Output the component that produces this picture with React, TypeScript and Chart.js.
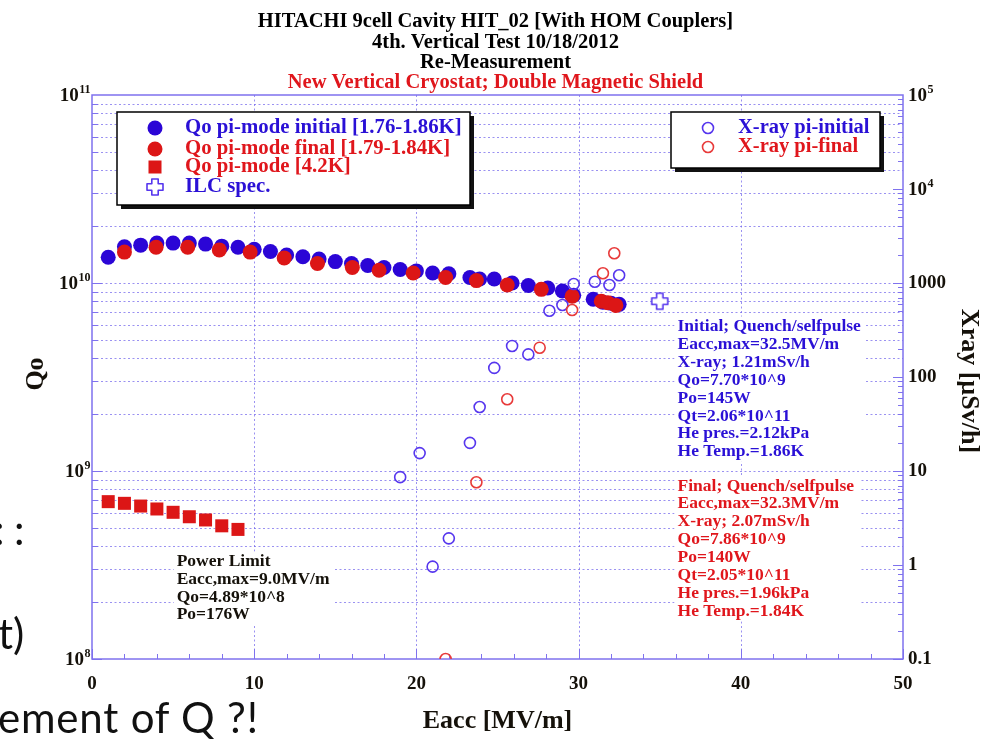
import React, { useEffect, useRef } from "react";
import { Chart, registerables } from "chart.js";

Chart.register(...registerables);

// ---------------- data ----------------
const initialEacc = [1, 2, 3, 4, 5, 6, 7, 8, 9, 10, 11, 12, 13, 14, 15, 16, 17, 18, 19, 20, 21, 22, 23.3, 23.9, 24.8, 25.9, 26.9, 28.1, 29.0, 29.7, 30.9, 31.5, 32.0, 32.5];
const initialQ = [1.37e10, 1.56e10, 1.59e10, 1.63e10, 1.63e10, 1.63e10, 1.61e10, 1.57e10, 1.55e10, 1.51e10, 1.47e10, 1.41e10, 1.38e10, 1.34e10, 1.30e10, 1.27e10, 1.24e10, 1.21e10, 1.18e10, 1.16e10, 1.13e10, 1.12e10, 1.07e10, 1.05e10, 1.05e10, 1.0e10, 9.7e9, 9.4e9, 9.06e9, 8.6e9, 8.2e9, 7.9e9, 7.8e9, 7.7e9];

const finalEacc = [2, 3.95, 5.9, 7.85, 9.75, 11.85, 13.9, 16.05, 17.7, 19.8, 21.8, 23.7, 25.6, 27.7, 29.6, 31.4, 31.8, 32.3];
const finalQ = [1.46e10, 1.55e10, 1.55e10, 1.5e10, 1.46e10, 1.36e10, 1.27e10, 1.21e10, 1.17e10, 1.13e10, 1.07e10, 1.03e10, 9.75e9, 9.25e9, 8.5e9, 8.0e9, 7.85e9, 7.6e9];

const heEacc = [1, 2, 3, 4, 5, 6, 7, 8, 9];
const heQ = [6.87e8, 6.73e8, 6.51e8, 6.28e8, 6.03e8, 5.71e8, 5.49e8, 5.11e8, 4.89e8];

const ilcEacc = [35];
const ilcQ = [8e9];

const xrayInitEacc = [19.0, 20.2, 21.0, 22.0, 23.3, 23.9, 24.8, 25.9, 26.9, 28.2, 29.0, 29.7, 31.0, 31.9, 32.5];
const xrayInitVal = [8.6, 15.5, 0.96, 1.92, 19.9, 48, 125, 214, 174, 507, 583, 976, 1032, 952, 1210];

const xrayFinalEacc = [21.8, 23.7, 25.6, 27.6, 29.6, 31.5, 32.2];
const xrayFinalVal = [0.1, 7.6, 58, 205, 516, 1270, 2070];

const xTicks = [0, 10, 20, 30, 40, 50];
const qTickExps = [8, 9, 10, 11];
const xrayTicks = [0.1, 1, 10, 100, 1000, 1e4, 1e5];

const titleLines = [
  "HITACHI 9cell Cavity HIT_02 [With HOM Couplers]",
  "4th. Vertical Test 10/18/2012",
  "Re-Measurement",
];
const subtitleLine = "New Vertical Cryostat; Double Magnetic Shield";

const legendLeft = [
  "Qo pi-mode initial [1.76-1.86K]",
  "Qo pi-mode final [1.79-1.84K]",
  "Qo pi-mode [4.2K]",
  "ILC spec.",
];
const legendRight = ["X-ray pi-initial", "X-ray pi-final"];

const initialNote = [
  "Initial; Quench/selfpulse",
  "Eacc,max=32.5MV/m",
  "X-ray; 1.21mSv/h",
  "Qo=7.70*10^9",
  "Po=145W",
  "Qt=2.06*10^11",
  "He pres.=2.12kPa",
  "He Temp.=1.86K",
];
const finalNote = [
  "Final; Quench/selfpulse",
  "Eacc,max=32.3MV/m",
  "X-ray; 2.07mSv/h",
  "Qo=7.86*10^9",
  "Po=140W",
  "Qt=2.05*10^11",
  "He pres.=1.96kPa",
  "He Temp.=1.84K",
];
const powerNote = ["Power Limit", "Eacc,max=9.0MV/m", "Qo=4.89*10^8", "Po=176W"];

// ---------------- styles ----------------
const SERIF = '"Liberation Serif", "Times New Roman", Times, serif';
const BLUE = "#2b05d6";
const RED = "#dc1616";
const BLUE_OPEN = "#5636ee";
const RED_OPEN = "#e83a3a";
const BLUE_TEXT = "#2a10d6";
const RED_TEXT = "#e0161c";
const DARK = "#15110a";
const GRID = "rgba(120,108,236,0.75)";
const AXIS = "#7f72ee";

function makeCross(color: string): HTMLCanvasElement {
  const c = document.createElement("canvas");
  const s = 20;
  c.width = s;
  c.height = s;
  const g = c.getContext("2d")!;
  const a = 3.2;
  const L = 8;
  const cx = s / 2;
  const cy = s / 2;
  g.beginPath();
  g.moveTo(cx - a, cy - L);
  g.lineTo(cx + a, cy - L);
  g.lineTo(cx + a, cy - a);
  g.lineTo(cx + L, cy - a);
  g.lineTo(cx + L, cy + a);
  g.lineTo(cx + a, cy + a);
  g.lineTo(cx + a, cy + L);
  g.lineTo(cx - a, cy + L);
  g.lineTo(cx - a, cy + a);
  g.lineTo(cx - L, cy + a);
  g.lineTo(cx - L, cy - a);
  g.lineTo(cx - a, cy - a);
  g.closePath();
  g.fillStyle = "#ffffff";
  g.fill();
  g.lineJoin = "round";
  g.lineWidth = 1.6;
  g.strokeStyle = color;
  g.stroke();
  return c;
}

function pts(xs: number[], ys: number[]) {
  return xs.map((x, i) => ({ x, y: ys[i] }));
}

function drawPow(ctx: CanvasRenderingContext2D, base: string, exp: string, x: number, y: number, fs: number, align: "left" | "right") {
  ctx.textAlign = "left";
  ctx.textBaseline = "alphabetic";
  ctx.font = `bold ${fs}px ${SERIF}`;
  const wb = ctx.measureText(base).width;
  const efs = Math.round(fs * 0.62);
  ctx.font = `bold ${efs}px ${SERIF}`;
  const we = ctx.measureText(exp).width;
  const x0 = align === "right" ? x - wb - we : x;
  const baseY = y + fs * 0.34;
  ctx.font = `bold ${fs}px ${SERIF}`;
  ctx.fillText(base, x0, baseY);
  ctx.font = `bold ${efs}px ${SERIF}`;
  ctx.fillText(exp, x0 + wb + 0.5, baseY - fs * 0.42);
}

function drawBox(ctx: CanvasRenderingContext2D, x: number, y: number, w: number, h: number) {
  ctx.fillStyle = "#111";
  ctx.fillRect(x + 4, y + 4, w, h);
  ctx.fillStyle = "#ffffff";
  ctx.fillRect(x, y, w, h);
  ctx.strokeStyle = "#000";
  ctx.lineWidth = 1.5;
  ctx.strokeRect(x, y, w, h);
}

function drawNote(ctx: CanvasRenderingContext2D, lines: string[], x: number, y: number, lh: number, color: string, fs: number) {
  ctx.font = `bold ${fs}px ${SERIF}`;
  let maxW = 0;
  lines.forEach((l) => (maxW = Math.max(maxW, ctx.measureText(l).width)));
  ctx.fillStyle = "#ffffff";
  ctx.fillRect(x - 3, y - lh / 2 - 1, maxW + 8, lh * lines.length + 2);
  ctx.fillStyle = color;
  ctx.textAlign = "left";
  ctx.textBaseline = "middle";
  lines.forEach((l, i) => ctx.fillText(l, x, y + i * lh));
}

export default function App() {
  const ref = useRef<HTMLCanvasElement | null>(null);

  useEffect(() => {
    if (!ref.current) return;
    const crossImg = makeCross(BLUE_OPEN);

    const decor = {
      id: "decor",
      beforeDatasetsDraw(chart: any) {
        const { ctx, chartArea: a, scales } = chart;
        const xs = scales.x;
        const ys = scales.y;
        const y2 = scales.y2;
        ctx.save();
        // grid
        ctx.strokeStyle = GRID;
        ctx.lineWidth = 1;
        ctx.setLineDash([2, 2.5]);
        xTicks.forEach((v) => {
          if (v <= xs.min || v >= xs.max) return;
          const px = Math.round(xs.getPixelForValue(v)) + 0.5;
          ctx.beginPath();
          ctx.moveTo(px, a.top);
          ctx.lineTo(px, a.bottom);
          ctx.stroke();
        });
        for (let e = 8; e <= 10; e++) {
          for (let m = 1; m <= 9; m++) {
            const v = m * Math.pow(10, e);
            if (v <= ys.min || v >= ys.max) continue;
            const py = Math.round(ys.getPixelForValue(v)) + 0.5;
            ctx.beginPath();
            ctx.moveTo(a.left, py);
            ctx.lineTo(a.right, py);
            ctx.stroke();
          }
        }
        ctx.setLineDash([]);
        // left ticks
        ctx.strokeStyle = AXIS;
        ctx.lineWidth = 1;
        for (let e = 8; e <= 10; e++) {
          for (let m = 1; m <= 9; m++) {
            const v = m * Math.pow(10, e);
            const py = Math.round(ys.getPixelForValue(v)) + 0.5;
            const len = m === 1 ? 10 : 6;
            ctx.beginPath();
            ctx.moveTo(a.left, py);
            ctx.lineTo(a.left + len, py);
            ctx.stroke();
          }
        }
        // right ticks
        for (let e = -1; e <= 4; e++) {
          for (let m = 1; m <= 9; m++) {
            const v = m * Math.pow(10, e);
            const py = Math.round(y2.getPixelForValue(v)) + 0.5;
            const len = m === 1 ? 10 : 5;
            ctx.beginPath();
            ctx.moveTo(a.right, py);
            ctx.lineTo(a.right - len, py);
            ctx.stroke();
          }
        }
        // bottom ticks
        for (let v = 0; v <= 50; v += 2) {
          const px = Math.round(xs.getPixelForValue(v)) + 0.5;
          const len = v % 10 === 0 ? 10 : 5;
          ctx.beginPath();
          ctx.moveTo(px, a.bottom);
          ctx.lineTo(px, a.bottom - len);
          ctx.stroke();
        }
        // frame
        ctx.lineWidth = 1.5;
        ctx.strokeStyle = AXIS;
        ctx.strokeRect(a.left, a.top, a.right - a.left, a.bottom - a.top);
        ctx.restore();
      },
      afterDraw(chart: any) {
        const { ctx, chartArea: a, scales } = chart;
        const xs = scales.x;
        const ys = scales.y;
        const y2 = scales.y2;
        ctx.save();
        const cx = (a.left + a.right) / 2;

        // titles
        ctx.textAlign = "center";
        ctx.textBaseline = "middle";
        ctx.font = `bold 20.5px ${SERIF}`;
        ctx.fillStyle = "#000";
        titleLines.forEach((t, i) => ctx.fillText(t, cx - 2, 22 + i * 20.4));
        ctx.fillStyle = RED_TEXT;
        ctx.fillText(subtitleLine, cx - 2, 22 + 3 * 20.4);

        // x tick labels
        ctx.fillStyle = DARK;
        ctx.font = `bold 19px ${SERIF}`;
        ctx.textAlign = "center";
        ctx.textBaseline = "middle";
        xTicks.forEach((v) => ctx.fillText(String(v), xs.getPixelForValue(v), a.bottom + 25));

        // left tick labels
        qTickExps.forEach((e) => {
          drawPow(ctx, "10", String(e), a.left - 2, ys.getPixelForValue(Math.pow(10, e)), 19, "right");
        });
        // right tick labels
        xrayTicks.forEach((v) => {
          const py = y2.getPixelForValue(v);
          if (v >= 1e4) {
            drawPow(ctx, "10", String(Math.round(Math.log10(v))), a.right + 5, py, 19, "left");
          } else {
            ctx.font = `bold 19px ${SERIF}`;
            ctx.textAlign = "left";
            ctx.textBaseline = "middle";
            ctx.fillText(String(v), a.right + 5, py);
          }
        });

        // axis titles
        ctx.font = `bold 26px ${SERIF}`;
        ctx.fillStyle = DARK;
        ctx.textAlign = "center";
        ctx.textBaseline = "middle";
        ctx.fillText("Eacc [MV/m]", cx, 721);
        ctx.save();
        ctx.translate(36, 374);
        ctx.rotate(-Math.PI / 2);
        ctx.fillText("Qo", 0, 0);
        ctx.restore();
        ctx.save();
        ctx.translate(969, 381);
        ctx.rotate(Math.PI / 2);
        ctx.fillText("Xray [\u00b5Sv/h]", 0, 0);
        ctx.restore();

        // left legend
        const lx = a.left + 25;
        const ly = a.top + 17;
        drawBox(ctx, lx, ly, 353, 93);
        const sx = a.left + 63;
        const rows = [ly + 16, ly + 37, ly + 55, ly + 75];
        ctx.fillStyle = BLUE;
        ctx.beginPath();
        ctx.arc(sx, rows[0], 7.5, 0, Math.PI * 2);
        ctx.fill();
        ctx.fillStyle = RED;
        ctx.beginPath();
        ctx.arc(sx, rows[1], 7.5, 0, Math.PI * 2);
        ctx.fill();
        ctx.fillRect(sx - 6.5, rows[2] - 6.5, 13, 13);
        ctx.drawImage(crossImg, sx - 10, rows[3] - 10);
        ctx.font = `bold 20.8px ${SERIF}`;
        ctx.textAlign = "left";
        ctx.textBaseline = "middle";
        const lcol = [BLUE_TEXT, RED_TEXT, RED_TEXT, BLUE_TEXT];
        legendLeft.forEach((t, i) => {
          ctx.fillStyle = lcol[i];
          ctx.fillText(t, a.left + 93, rows[i]);
        });

        // right legend
        const rx = a.left + 579;
        const ry = a.top + 17;
        drawBox(ctx, rx, ry, 209, 56);
        const rsx = rx + 37;
        const rrows = [ry + 16, ry + 35];
        ctx.lineWidth = 1.6;
        ctx.strokeStyle = BLUE_OPEN;
        ctx.beginPath();
        ctx.arc(rsx, rrows[0], 5.5, 0, Math.PI * 2);
        ctx.stroke();
        ctx.strokeStyle = RED_OPEN;
        ctx.beginPath();
        ctx.arc(rsx, rrows[1], 5.5, 0, Math.PI * 2);
        ctx.stroke();
        ctx.font = `bold 20.5px ${SERIF}`;
        ctx.fillStyle = BLUE_TEXT;
        ctx.fillText(legendRight[0], rx + 67, rrows[0]);
        ctx.fillStyle = RED_TEXT;
        ctx.fillText(legendRight[1], rx + 67, rrows[1]);

        // notes
        drawNote(ctx, initialNote, xs.getPixelForValue(36.1), ys.getPixelForValue(5.87e9), 17.9, BLUE_TEXT, 17.5);
        drawNote(ctx, finalNote, xs.getPixelForValue(36.1), ys.getPixelForValue(8.32e8), 17.9, RED_TEXT, 17.5);
        drawNote(ctx, powerNote, xs.getPixelForValue(5.22), ys.getPixelForValue(3.3e8), 17.8, DARK, 17.5);

        ctx.restore();
      },
    };

    const chart = new Chart(ref.current, {
      type: "scatter",
      data: {
        datasets: [
          {
            label: "X-ray pi-final",
            data: pts(xrayFinalEacc, xrayFinalVal),
            yAxisID: "y2",
            pointStyle: "circle",
            pointRadius: 5.5,
            pointBorderWidth: 1.6,
            borderColor: RED_OPEN,
            backgroundColor: "rgba(0,0,0,0)",
            order: 0,
          },
          {
            label: "X-ray pi-initial",
            data: pts(xrayInitEacc, xrayInitVal),
            yAxisID: "y2",
            pointStyle: "circle",
            pointRadius: 5.5,
            pointBorderWidth: 1.6,
            borderColor: BLUE_OPEN,
            backgroundColor: "rgba(0,0,0,0)",
            order: 1,
          },
          {
            label: "ILC spec.",
            data: pts(ilcEacc, ilcQ),
            yAxisID: "y",
            pointStyle: crossImg,
            pointRadius: 9,
            order: 2,
          },
          {
            label: "Qo pi-mode [4.2K]",
            data: pts(heEacc, heQ),
            yAxisID: "y",
            pointStyle: "rect",
            pointRadius: 9.2,
            pointBorderWidth: 0,
            borderColor: RED,
            backgroundColor: RED,
            order: 3,
          },
          {
            label: "Qo pi-mode final [1.79-1.84K]",
            data: pts(finalEacc, finalQ),
            yAxisID: "y",
            pointStyle: "circle",
            pointRadius: 7.5,
            pointBorderWidth: 0,
            borderColor: RED,
            backgroundColor: RED,
            order: 4,
          },
          {
            label: "Qo pi-mode initial [1.76-1.86K]",
            data: pts(initialEacc, initialQ),
            yAxisID: "y",
            pointStyle: "circle",
            pointRadius: 7.5,
            pointBorderWidth: 0,
            borderColor: BLUE,
            backgroundColor: BLUE,
            order: 5,
          },
        ],
      },
      options: {
        animation: false,
        responsive: false,
        events: [],
        layout: { padding: { top: 95, left: 0, right: 0, bottom: 0 } },
        plugins: {
          legend: { display: false },
          tooltip: { enabled: false },
          title: { display: false },
        },
        scales: {
          x: {
            type: "linear",
            position: "bottom",
            min: 0,
            max: 50,
            ticks: { display: false, stepSize: 10 },
            grid: { display: false },
            border: { display: false },
            afterFit: (s: any) => {
              s.height = 84;
            },
          },
          y: {
            type: "logarithmic",
            position: "left",
            min: 1e8,
            max: 1e11,
            ticks: { display: false },
            grid: { display: false },
            border: { display: false },
            afterFit: (s: any) => {
              s.width = 92;
            },
          },
          y2: {
            type: "logarithmic",
            position: "right",
            min: 0.1,
            max: 1e5,
            ticks: { display: false },
            grid: { display: false },
            border: { display: false },
            afterFit: (s: any) => {
              s.width = 85;
            },
          },
        },
      } as any,
      plugins: [decor],
    });
    return () => chart.destroy();
  }, []);

  const slide: React.CSSProperties = {
    position: "absolute",
    fontFamily: 'Lato, "Open Sans", sans-serif',
    fontSize: 42,
    lineHeight: "42px",
    color: "#111",
    whiteSpace: "nowrap",
  };

  return (
    <div style={{ position: "absolute", left: 0, top: 0, width: 988, height: 743, background: "#fff", overflow: "hidden" }}>
      <canvas ref={ref} width={988} height={743} style={{ position: "absolute", left: 0, top: 0, width: 988, height: 743 }} />
      <div style={{ ...slide, left: -6, top: 508 }}>:</div>
      <div style={{ ...slide, left: 14, top: 508 }}>:</div>
      <div style={{ ...slide, left: -2, top: 612 }}>t)</div>
      <div style={{ ...slide, left: -2, top: 696, letterSpacing: "0.8px" }}>ement of Q ?!</div>
    </div>
  );
}
